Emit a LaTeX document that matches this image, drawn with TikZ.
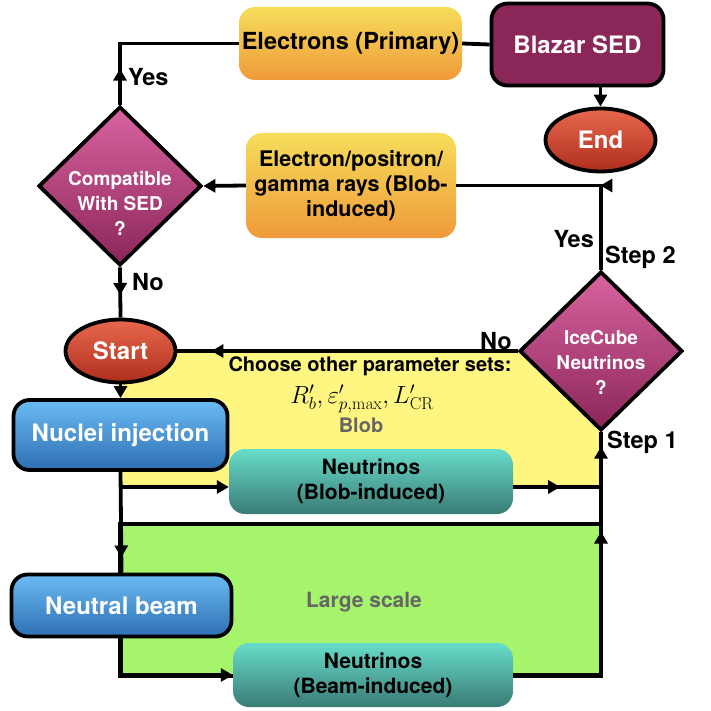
\documentclass[tikz,border=0pt]{standalone}
\usepackage[no-math]{fontspec}
\setmainfont{TeX Gyre Heros}
\usetikzlibrary{shapes.geometric,arrows.meta,decorations.markings}
\definecolor{OrangeTop}{HTML}{F6DD5B}
\definecolor{OrangeBot}{HTML}{EF9A3A}
\definecolor{BlazarPurple}{HTML}{8B2659}
\definecolor{PinkTop}{HTML}{D863A0}
\definecolor{RedTop}{HTML}{E8684E}
\definecolor{RedBot}{HTML}{AE2E1C}
\definecolor{BlueTop}{HTML}{6BBBF3}
\definecolor{BlueBot}{HTML}{2E6FB3}
\definecolor{TealTop}{HTML}{67DDCA}
\definecolor{TealBot}{HTML}{3A7B76}
\definecolor{BlobYellow}{HTML}{FEF681}
\definecolor{ScaleGreen}{HTML}{A6F46C}
\definecolor{RegionGray}{HTML}{666666}
\tikzset{
  flow/.style={line width=3.8pt},
  tip/.style={-{Triangle[length=12pt,width=13pt]}},
  midarrow/.style={postaction={decorate,decoration={markings,
    mark=at position #1 with {\arrow{Triangle[length=12pt,width=13pt]}}}}},
  orangebox/.style={rounded corners=16pt,top color=OrangeTop,bottom color=OrangeBot,
    align=center,inner sep=0pt,font=\bfseries\fontsize{21.5}{25}\selectfont},
  tealbox/.style={rounded corners=16pt,top color=TealTop,bottom color=TealBot,
    align=center,inner sep=0pt,font=\bfseries\fontsize{21}{25}\selectfont},
  bluebox/.style={draw,line width=3.8pt,rounded corners=16pt,top color=BlueTop,bottom color=BlueBot,
    text=white,inner sep=0pt,font=\bfseries\fontsize{24}{28}\selectfont},
  lbl/.style={font=\bfseries\fontsize{23.5}{27}\selectfont,inner sep=0pt},
  regiontxt/.style={font=\bfseries\fontsize{20}{24}\selectfont,inner sep=0pt}
}
\newcommand{\drawoval}{\node[draw,ellipse,line width=3.8pt,top color=RedTop,bottom color=RedBot,
  text=white,minimum width=110pt,minimum height=63pt,inner sep=0pt,
  font=\bfseries\fontsize{24}{28}\selectfont]}
\newcommand{\drawdiam}{\node[draw,diamond,line width=3.8pt,top color=PinkTop,bottom color=BlazarPurple,
  minimum width=163pt,minimum height=159pt,inner sep=0pt]}
\newcommand{\diamtext}{\node[text=white,align=center,inner sep=0pt,
  font=\bfseries\fontsize{19}{25}\selectfont]}

\begin{document}
\begin{tikzpicture}[x=1pt,y=-1pt]
\useasboundingbox (0,0) rectangle (710,711);
%regions
\fill[BlobYellow] (120,351) -- (520,351) -- (601,432) -- (601,487) -- (120,487) -- cycle;
\draw[flow,fill=ScaleGreen] (120,524) rectangle (601,676);

%upper part
\node[orangebox,minimum width=223pt,minimum height=73pt,font=\bfseries\fontsize{23.5}{27}\selectfont]
  (elec) at (350.5,43.5) {Electrons (Primary)};
\node[draw,line width=3.8pt,rounded corners=16pt,fill=BlazarPurple,text=white,minimum width=172pt,
  minimum height=82pt,font=\bfseries\fontsize{24}{28}\selectfont] (blazar) at (577.5,44.5) {Blazar SED};
\drawoval (end) at (600.5,140) {End};
\drawdiam (comp) at (120,186) {};
\diamtext (comptxt) at (120,203) {Compatible\\With SED\\?};
\node[orangebox,minimum width=210pt,minimum height=105pt] (elecpos) at (351,185.5)
  {Electron/positron/\\gamma rays (Blob-\\induced)};
\drawdiam (ice) at (601,351) {};
\diamtext (icetxt) at (601,362) {IceCube\\Neutrinos\\?};
\drawoval (start) at (120.5,351) {Start};

%lower part
\node[bluebox,minimum width=214pt,minimum height=70pt] (nuc) at (120.5,435) {Nuclei injection};
\node[tealbox,minimum width=284pt,minimum height=65pt] (nblob) at (371,481.5) {Neutrinos\\(Blob-induced)};
\node[bluebox,minimum width=220pt,minimum height=62pt] (beam) at (121.5,605.5) {Neutral beam};
\node[tealbox,minimum width=280pt,minimum height=64pt] (nbeam) at (373,675) {Neutrinos\\(Beam-induced)};

%texts
\node[regiontxt] (choose) at (370,366.5) {Choose other parameter sets:};
\node[inner sep=0pt,font=\fontsize{27}{30}\selectfont] (params) at (362,399) {$R'_b, \varepsilon'_{p,\max}, L'_{\mathrm{CR}}$};
\node[regiontxt,text=RegionGray] (bloblbl) at (361,425) {Blob};
\node[regiontxt,text=RegionGray,font=\bfseries\fontsize{21}{24}\selectfont] (scalelbl) at (364,602) {Large scale};
\node[lbl,anchor=west] (yes1) at (128,77) {Yes};
\node[lbl,anchor=west] (no1) at (132,282) {No};
\node[lbl,anchor=east] (no2) at (512,341) {No};
\node[lbl,anchor=east] (yes2) at (594,239) {Yes};
\node[lbl,anchor=west] (step2) at (605,257) {Step 2};
\node[lbl,anchor=west] (step1) at (607,442) {Step 1};

%connectors
\draw[flow,midarrow=0.2] (comp.north) |- (elec.west);
\draw[flow] (elec.east) -- (blazar.west);
\draw[flow,tip] (end.north |- blazar.south) -- (end.north);
\draw[flow,tip] (elecpos.west) -- (comp.east);
\draw[flow,midarrow=0.37] (ice.north) |- (elecpos.east);
\draw[flow,midarrow=0.55] (comp.south) -- (start.north);
\draw[flow,midarrow=0.9] (ice.west) -- (start.east);
\draw[flow,tip] (start.south) -- (nuc.north);
\draw[flow,tip] (nuc.south) |- ([yshift=-5.5pt]nblob.west);
\draw[flow,midarrow=0.85] (nuc.south) -- (beam.north);
\draw[flow,midarrow=0.33,midarrow=0.9] ([yshift=-5.5pt]nblob.east) -| (ice.south);
\draw[flow,tip] (beam.south) |- (nbeam.west);
\draw[flow,midarrow=0.7] (nbeam.east) -| (ice.south);
\end{tikzpicture}
\end{document}
